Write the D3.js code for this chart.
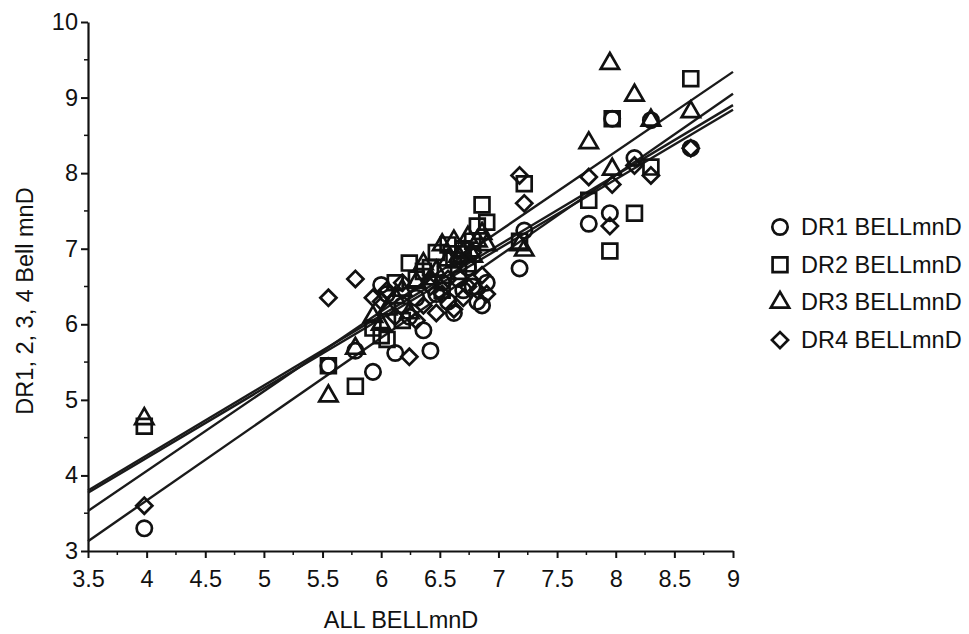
<!DOCTYPE html>
<html>
<head>
<meta charset="utf-8">
<script src="https://cdn.jsdelivr.net/npm/d3@7"></script>
<style>
  body { margin: 0; background: #fff; }
  svg text { font-family: "Liberation Sans", Arial, Helvetica, sans-serif; fill: #111; }
</style>
</head>
<body>
<div id="chart"></div>
<script>
// ALL BELLmnD value for each item (x axis)
var allBell = [3.98, 5.55, 5.78, 5.93, 6.00, 6.05, 6.12, 6.18, 6.24, 6.30, 6.36, 6.42, 6.47, 6.52, 6.57,
               6.62, 6.66, 6.70, 6.74, 6.78, 6.82, 6.86, 6.90, 7.18, 7.22, 7.77, 7.95, 7.97, 8.16, 8.30, 8.64];

// per-rater values, same order as allBell
var dr1 = [3.30, 5.45, 5.65, 5.37, 6.52, 6.40, 5.62, 6.25, 6.10, 6.35, 5.92, 5.65, 6.40, 6.55, 6.30,
           6.15, 6.60, 6.45, 6.75, 6.50, 6.30, 6.25, 6.55, 6.74, 7.24, 7.33, 7.47, 8.72, 8.20, 8.70, 8.33];
var dr2 = [4.65, 5.45, 5.18, 5.95, 5.85, 5.80, 6.55, 6.05, 6.81, 6.60, 6.70, 6.75, 6.95, 6.45, 7.05,
           6.85, 6.70, 7.00, 6.80, 7.10, 7.30, 7.58, 7.35, 7.10, 7.86, 7.64, 6.97, 8.72, 7.47, 8.08, 9.25];
var dr3 = [4.75, 5.05, 5.68, 6.10, 6.00, 6.20, 6.35, 6.45, 6.15, 6.55, 6.80, 6.60, 6.70, 7.05, 6.85,
           7.10, 6.90, 6.95, 7.15, 6.90, 7.10, 7.20, 7.05, 7.05, 6.98, 8.40, 9.45, 8.05, 9.03, 8.70, 8.81];
var dr4 = [3.60, 6.35, 6.60, 6.35, 6.30, 6.45, 6.10, 6.55, 5.57, 6.05, 6.25, 6.50, 6.15, 6.40, 6.60,
           6.20, 6.85, 6.35, 6.50, 6.95, 6.45, 6.65, 6.40, 7.97, 7.60, 7.95, 7.30, 7.85, 8.10, 7.97, 8.33];

var seriesNames = ["DR1 BELLmnD", "DR2 BELLmnD", "DR3 BELLmnD", "DR4 BELLmnD"];
var seriesShapes = ["circle", "square", "triangle", "diamond"];

// regression lines, value at x = 3.5 and at x = 9
var fitX = [3.5, 9];
var fitStart = [3.13, 3.80, 3.53, 3.77];
var fitEnd = [9.05, 8.90, 9.34, 8.84];

var xTicks = [3.5, 4, 4.5, 5, 5.5, 6, 6.5, 7, 7.5, 8, 8.5, 9];
var yTicks = [3, 4, 5, 6, 7, 8, 9, 10];

var width = 969, height = 634;
var fontSize = "23.5px";

var svg = d3.select("#chart").append("svg")
  .attr("width", width)
  .attr("height", height);

var x = d3.scaleLinear().domain([3.5, 9]).range([88, 733]);
var y = d3.scaleLinear().domain([3, 10]).range([551, 22]);

//minor ticks
var xMinor = d3.range(3.75, 9, 0.5);
var yMinor = d3.range(3.5, 10, 1);

svg.append("g")
  .attr("transform", "translate(0,551)")
  .selectAll("line")
  .data(xMinor)
  .enter()
  .append("line")
  .attr("x1", function(d){ return x(d); })
  .attr("x2", function(d){ return x(d); })
  .attr("y1", 0)
  .attr("y2", 4)
  .style("stroke", "#111")
  .style("stroke-width", 1.5);

svg.append("g")
  .attr("transform", "translate(88,0)")
  .selectAll("line")
  .data(yMinor)
  .enter()
  .append("line")
  .attr("y1", function(d){ return y(d); })
  .attr("y2", function(d){ return y(d); })
  .attr("x1", 0)
  .attr("x2", -4)
  .style("stroke", "#111")
  .style("stroke-width", 1.5);

//axes
var xAxis = svg.append("g")
  .attr("transform", "translate(0,551)")
  .call(d3.axisBottom(x).tickValues(xTicks).tickFormat(function(d){ return String(d); })
    .tickSize(7).tickSizeOuter(0).tickPadding(12));

var yAxis = svg.append("g")
  .attr("transform", "translate(88,0)")
  .call(d3.axisLeft(y).tickValues(yTicks).tickFormat(d3.format("d"))
    .tickSize(7).tickSizeOuter(0).tickPadding(3));

[xAxis, yAxis].forEach(function(a) {
  a.select(".domain").style("stroke", "#111").style("stroke-width", 2.2);
  a.selectAll(".tick line").style("stroke", "#111").style("stroke-width", 2);
  a.selectAll(".tick text").style("font-size", fontSize).style("font-family", "'Liberation Sans', Arial, sans-serif").style("fill", "#111");
});

//axis titles
svg.append("text")
  .attr("x", 401)
  .attr("y", 628)
  .attr("text-anchor", "middle")
  .style("font-size", fontSize)
  .text("ALL BELLmnD");

svg.append("text")
  .attr("transform", "translate(33,301) rotate(-90)")
  .attr("text-anchor", "middle")
  .style("font-size", fontSize)
  .text("DR1, 2, 3, 4 Bell mnD");

//regression lines
var lineGen = d3.line()
  .x(function(d){ return x(d[0]); })
  .y(function(d){ return y(d[1]); });

svg.append("g")
  .selectAll("path")
  .data(fitStart.map(function(s, i){ return [[fitX[0], s], [fitX[1], fitEnd[i]]]; }))
  .enter()
  .append("path")
  .attr("d", lineGen)
  .style("fill", "none")
  .style("stroke", "#1a1a1a")
  .style("stroke-width", 2.4);

//markers
var symbolPath = {
  circle: d3.symbol().type(d3.symbolCircle).size(185)(),
  square: d3.symbol().type(d3.symbolSquare).size(220)(),
  triangle: d3.symbol().type(d3.symbolTriangle).size(145)(),
  diamond: d3.symbol().type(d3.symbolSquare).size(130)()
};

function markerTransform(shape, px, py) {
  return "translate(" + px + "," + py + ")" + (shape == "diamond" ? " rotate(45)" : "");
}

var seriesValues = [dr1, dr2, dr3, dr4];

seriesValues.forEach(function(vals, i) {
  var shape = seriesShapes[i];
  svg.append("g")
    .selectAll("path")
    .data(vals)
    .enter()
    .append("path")
    .attr("d", symbolPath[shape])
    .attr("transform", function(d, j){ return markerTransform(shape, x(allBell[j]), y(d)); })
    .style("fill", "none")
    .style("stroke", "#111")
    .style("stroke-width", 2.7);
});

//legend
var legend = svg.append("g");
seriesNames.forEach(function(name, i) {
  var cy = 227 + i * 37.7;
  legend.append("path")
    .attr("d", symbolPath[seriesShapes[i]])
    .attr("transform", markerTransform(seriesShapes[i], 780, cy))
    .style("fill", "none")
    .style("stroke", "#111")
    .style("stroke-width", 2.7);
  legend.append("text")
    .attr("x", 801)
    .attr("y", cy + 8)
    .style("font-size", fontSize)
    .text(name);
});
</script>
</body>
</html>
